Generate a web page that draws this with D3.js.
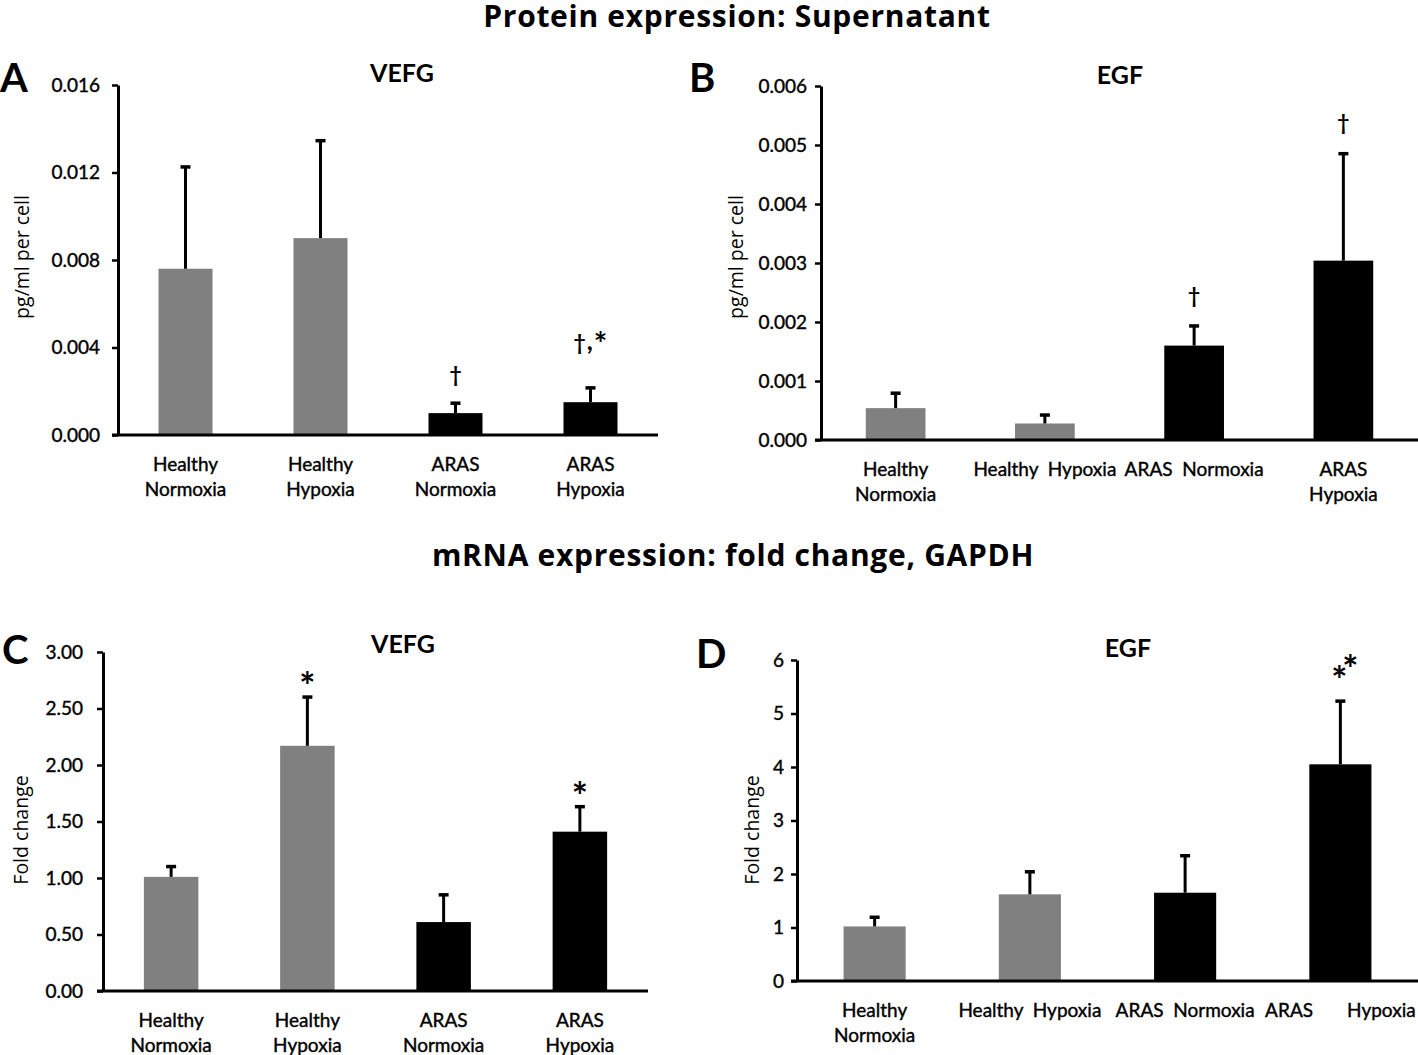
<!DOCTYPE html>
<html><head><meta charset="utf-8">
<script src="https://cdn.jsdelivr.net/npm/d3@7"></script>
<style>
body{margin:0;background:#fff}
svg{display:block}
text{font-family:Lato,"Open Sans",sans-serif;fill:#000}
</style>
</head><body>
<svg id="chart" width="1418" height="1055"></svg>
<script>
// ---------- data ----------
const categories = ["Healthy Normoxia", "Healthy Hypoxia", "ARAS Normoxia", "ARAS Hypoxia"];
const barColors = ["#808080", "#808080", "#000000", "#000000"];

// A: protein VEFG (pg/ml per cell)
const proteinVefgMeans  = [0.0076, 0.0090, 0.0010, 0.0015];
const proteinVefgErrors = [0.0047, 0.0045, 0.0005, 0.0007];
const proteinVefgTicks  = [0, 0.004, 0.008, 0.012, 0.016];
const proteinVefgTickLabels = ["0.000", "0.004", "0.008", "0.012", "0.016"];
const proteinVefgMarks  = ["", "", "†", "†,*"];
const proteinVefgCatLabels = [["Healthy", "Normoxia"], ["Healthy", "Hypoxia"], ["ARAS", "Normoxia"], ["ARAS", "Hypoxia"]];

// B: protein EGF (pg/ml per cell)
const proteinEgfMeans  = [0.00054, 0.00028, 0.00160, 0.00304];
const proteinEgfErrors = [0.00027, 0.00016, 0.00035, 0.00183];
const proteinEgfTicks  = [0, 0.001, 0.002, 0.003, 0.004, 0.005, 0.006];
const proteinEgfTickLabels = ["0.000", "0.001", "0.002", "0.003", "0.004", "0.005", "0.006"];
const proteinEgfMarks  = ["", "", "†", "†"];
const proteinEgfCatLabels = [["Healthy", "Normoxia"], ["Healthy  Hypoxia"], ["ARAS  Normoxia"], ["ARAS", "Hypoxia"]];

// C: mRNA VEFG (fold change)
const mrnaVefgMeans  = [1.01, 2.17, 0.61, 1.41];
const mrnaVefgErrors = [0.10, 0.44, 0.25, 0.23];
const mrnaVefgTicks  = [0, 0.5, 1, 1.5, 2, 2.5, 3];
const mrnaVefgTickLabels = ["0.00", "0.50", "1.00", "1.50", "2.00", "2.50", "3.00"];
const mrnaVefgMarks  = ["", "*", "", "*"];
const mrnaVefgCatLabels = [["Healthy", "Normoxia"], ["Healthy", "Hypoxia"], ["ARAS", "Normoxia"], ["ARAS", "Hypoxia"]];

// D: mRNA EGF (fold change)
const mrnaEgfMeans  = [1.02, 1.62, 1.65, 4.05];
const mrnaEgfErrors = [0.19, 0.44, 0.71, 1.20];
const mrnaEgfTicks  = [0, 1, 2, 3, 4, 5, 6];
const mrnaEgfTickLabels = ["0", "1", "2", "3", "4", "5", "6"];
const mrnaEgfMarks  = ["", "", "", "**"];
const mrnaEgfCatLabels = [["Healthy", "Normoxia"], ["Healthy  Hypoxia"], ["ARAS  Normoxia"], ["ARAS       Hypoxia"]];

const sectionTitles = ["Protein  expression: Supernatant", "mRNA expression: fold change, GAPDH"];

// ---------- layout ----------
const panels = [
  {letter: "A", title: "VEFG", yTitle: "pg/ml per cell",
   means: proteinVefgMeans, errors: proteinVefgErrors, ticks: proteinVefgTicks, tickLabels: proteinVefgTickLabels,
   marks: proteinVefgMarks, catLabels: proteinVefgCatLabels,
   x0: 118, x1: 658, yTop: 85, yBot: 435, tickPad: 12,
   letterPos: [0, 92], titlePos: [402, 82], yTitlePos: [29, 257], markDy: [0, 0, -20, -37]},
  {letter: "B", title: "EGF", yTitle: "pg/ml per cell",
   means: proteinEgfMeans, errors: proteinEgfErrors, ticks: proteinEgfTicks, tickLabels: proteinEgfTickLabels,
   marks: proteinEgfMarks, catLabels: proteinEgfCatLabels,
   x0: 821, x1: 1418, yTop: 86, yBot: 440, tickPad: 8,
   letterPos: [689, 92], titlePos: [1120, 84], yTitlePos: [743, 257], markDy: [0, 0, -22, -23]},
  {letter: "C", title: "VEFG", yTitle: "Fold change",
   means: mrnaVefgMeans, errors: mrnaVefgErrors, ticks: mrnaVefgTicks, tickLabels: mrnaVefgTickLabels,
   marks: mrnaVefgMarks, catLabels: mrnaVefgCatLabels,
   x0: 103, x1: 648, yTop: 652, yBot: 991, tickPad: 14,
   letterPos: [2, 664], titlePos: [403, 653], yTitlePos: [28, 830], markDy: [0, 4, 0, 4]},
  {letter: "D", title: "EGF", yTitle: "Fold change",
   means: mrnaEgfMeans, errors: mrnaEgfErrors, ticks: mrnaEgfTicks, tickLabels: mrnaEgfTickLabels,
   marks: mrnaEgfMarks, catLabels: mrnaEgfCatLabels,
   x0: 797, x1: 1418, yTop: 660, yBot: 981, tickPad: 7,
   letterPos: [696, 668], titlePos: [1128, 657], yTitlePos: [759, 830], markDy: [0, 0, 0, -6]}
];

const svg = d3.select("#chart");
svg.append("rect").attr("width", 1418).attr("height", 1055).attr("fill", "#fff");

// section titles
svg.append("text").attr("x", 737).attr("y", 27).attr("text-anchor", "middle")
  .style("font-family", "'Open Sans', sans-serif").style("letter-spacing", "0.7px")
  .attr("font-size", 30).attr("font-weight", 700).text(sectionTitles[0]);
svg.append("text").attr("x", 733).attr("y", 566).attr("text-anchor", "middle")
  .style("font-family", "'Open Sans', sans-serif").style("letter-spacing", "0.7px")
  .attr("font-size", 30).attr("font-weight", 700).text(sectionTitles[1]);

function drawPanel(p) {
  const g = svg.append("g");
  const x = d3.scaleBand().domain(categories).range([p.x0, p.x1]).paddingInner(0.6).paddingOuter(0.3);
  const y = d3.scaleLinear().domain([0, d3.max(p.ticks)]).range([p.yBot, p.yTop]);

  // bars
  g.selectAll("rect.bar").data(categories).join("rect").attr("class", "bar")
    .attr("x", d => x(d)).attr("width", x.bandwidth())
    .attr("y", (d, i) => y(p.means[i]))
    .attr("height", (d, i) => y(0) - y(p.means[i]))
    .attr("fill", (d, i) => barColors[i]);

  // error bars (upper only)
  const eb = g.selectAll("g.err").data(categories).join("g").attr("class", "err");
  eb.append("line")
    .attr("x1", d => x(d) + x.bandwidth() / 2).attr("x2", d => x(d) + x.bandwidth() / 2)
    .attr("y1", (d, i) => y(p.means[i])).attr("y2", (d, i) => y(p.means[i] + p.errors[i]))
    .attr("stroke", "#000").attr("stroke-width", 3);
  eb.append("line")
    .attr("x1", d => x(d) + x.bandwidth() / 2 - 5).attr("x2", d => x(d) + x.bandwidth() / 2 + 5)
    .attr("y1", (d, i) => y(p.means[i] + p.errors[i]) + 1).attr("y2", (d, i) => y(p.means[i] + p.errors[i]) + 1)
    .attr("stroke", "#000").attr("stroke-width", 3.5);

  // significance marks
  categories.forEach((c, i) => {
    const m = p.marks[i];
    if (!m) return;
    const cx = x(c) + x.bandwidth() / 2;
    const by = y(p.means[i] + p.errors[i]) + p.markDy[i];
    if (m === "**") {
      g.append("text").attr("x", cx - 1).attr("y", by).attr("text-anchor", "middle")
        .attr("font-size", 38).attr("font-weight", 700).text("*");
      g.append("text").attr("x", cx + 10).attr("y", by - 11).attr("text-anchor", "middle")
        .attr("font-size", 38).attr("font-weight", 700).text("*");
    } else if (m === "*") {
      g.append("text").attr("x", cx).attr("y", by).attr("text-anchor", "middle")
        .attr("font-size", 38).attr("font-weight", 700).text(m);
    } else {
      const t = g.append("text").attr("x", cx).attr("y", by).attr("text-anchor", "middle")
        .attr("font-size", 21).attr("font-weight", 700);
      m.split("").forEach(ch => {
        const s = t.append("tspan").text(ch);
        if (ch === "*") s.attr("font-size", 32).attr("dy", 6).attr("dx", 1);
        if (ch === ",") s.attr("font-size", 26).attr("dx", 1);
      });
    }
  });

  // y axis
  const ax = d3.axisLeft(y).tickValues(p.ticks).tickFormat((d, i) => p.tickLabels[i])
    .tickSize(6).tickSizeOuter(0).tickPadding(p.tickPad);
  const ga = g.append("g").attr("transform", `translate(${p.x0},0)`).call(ax);
  ga.attr("font-family", null).attr("font-size", null);
  ga.select(".domain").attr("stroke", "#000").attr("stroke-width", 3);
  ga.selectAll(".tick line").attr("stroke", "#000").attr("stroke-width", 2.5);
  ga.selectAll(".tick text").attr("font-size", 19).style("font-family", "Lato, sans-serif")
    .attr("fill", "#000").attr("stroke", "#000").attr("stroke-width", 0.4);

  // x axis line
  g.append("line").attr("x1", p.x0 - 6).attr("x2", p.x1).attr("y1", y(0)).attr("y2", y(0))
    .attr("stroke", "#000").attr("stroke-width", 3);

  // category labels
  categories.forEach((c, i) => {
    const cx = x(c) + x.bandwidth() / 2;
    p.catLabels[i].forEach((line, j) => {
      g.append("text").attr("x", cx).attr("y", y(0) + 36 + j * 25)
        .attr("text-anchor", "middle").attr("font-size", 19)
        .attr("stroke", "#000").attr("stroke-width", 0.4)
        .attr("xml:space", "preserve").style("white-space", "pre").text(line);
    });
  });

  // titles
  g.append("text").attr("x", p.letterPos[0]).attr("y", p.letterPos[1])
    .attr("font-size", 40).attr("font-weight", 700).text(p.letter);
  g.append("text").attr("x", p.titlePos[0]).attr("y", p.titlePos[1]).attr("text-anchor", "middle")
    .attr("font-size", 25).attr("font-weight", 700).text(p.title);
  g.append("text").attr("transform", `translate(${p.yTitlePos[0]},${p.yTitlePos[1]}) rotate(-90)`)
    .attr("text-anchor", "middle").attr("font-size", 19.5)
    .style("font-family", "'Open Sans', sans-serif").text(p.yTitle);
}

panels.forEach(drawPanel);
</script>
</body></html>
